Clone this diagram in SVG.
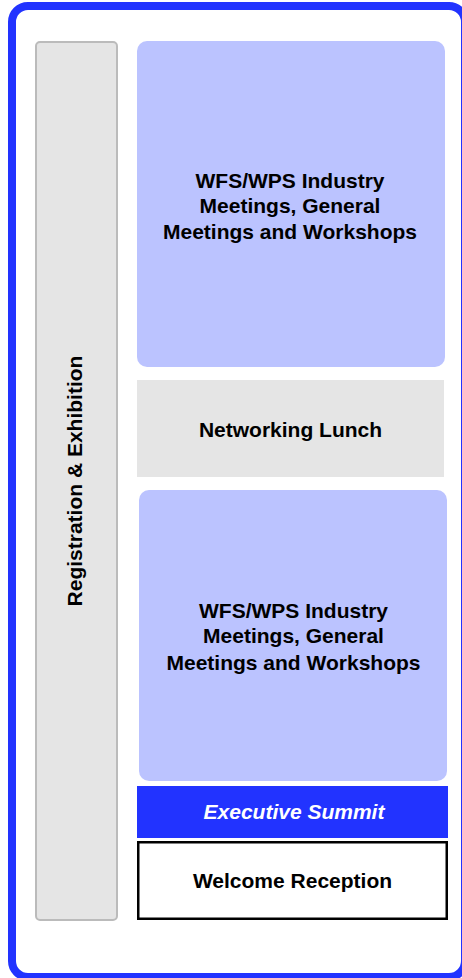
<svg xmlns="http://www.w3.org/2000/svg" width="462" height="978" viewBox="0 0 462 978">
  <style>
    .lbl { font-family: "Liberation Sans", Arial, sans-serif; font-weight: bold; font-size: 21px; fill: #000; text-anchor: middle; }
    .session { fill: #bbc3ff; }
    .grey { fill: #e5e5e5; }
  </style>
  <rect width="462" height="978" fill="#ffffff"/>
  <g id="frame">
    <rect x="12" y="6" width="453" height="971" rx="16" fill="#ffffff" stroke="#2233ff" stroke-width="8"/>
  </g>
  <g id="registration">
    <rect x="36" y="42" width="81" height="878" rx="4" class="grey" stroke="#bbbbbb" stroke-width="2"/>
    <text class="lbl" transform="translate(82,481) rotate(-90)">Registration &amp; Exhibition</text>
  </g>
  <g id="morning">
    <rect x="137" y="41" width="308" height="326" rx="10" class="session"/>
    <text class="lbl" x="290" y="188">WFS/WPS Industry</text>
    <text class="lbl" x="290" y="213">Meetings, General</text>
    <text class="lbl" x="290" y="239">Meetings and Workshops</text>
  </g>
  <g id="lunch">
    <rect x="137" y="380" width="307" height="97" class="grey"/>
    <text class="lbl" x="290.5" y="437">Networking Lunch</text>
  </g>
  <g id="afternoon">
    <rect x="139" y="490" width="308" height="291" rx="10" class="session"/>
    <text class="lbl" x="293.5" y="618">WFS/WPS Industry</text>
    <text class="lbl" x="293.5" y="643">Meetings, General</text>
    <text class="lbl" x="293.5" y="670">Meetings and Workshops</text>
  </g>
  <g id="executive">
    <rect x="137" y="786" width="311" height="52" fill="#2233ff"/>
    <text class="lbl" x="294" y="819" style="fill:#ffffff;font-style:italic">Executive Summit</text>
  </g>
  <g id="reception">
    <rect x="138.25" y="842.25" width="308.5" height="76.5" fill="#ffffff" stroke="#000000" stroke-width="2.5"/>
    <text class="lbl" x="292.5" y="888">Welcome Reception</text>
  </g>
  <g id="connectors"/>
</svg>
